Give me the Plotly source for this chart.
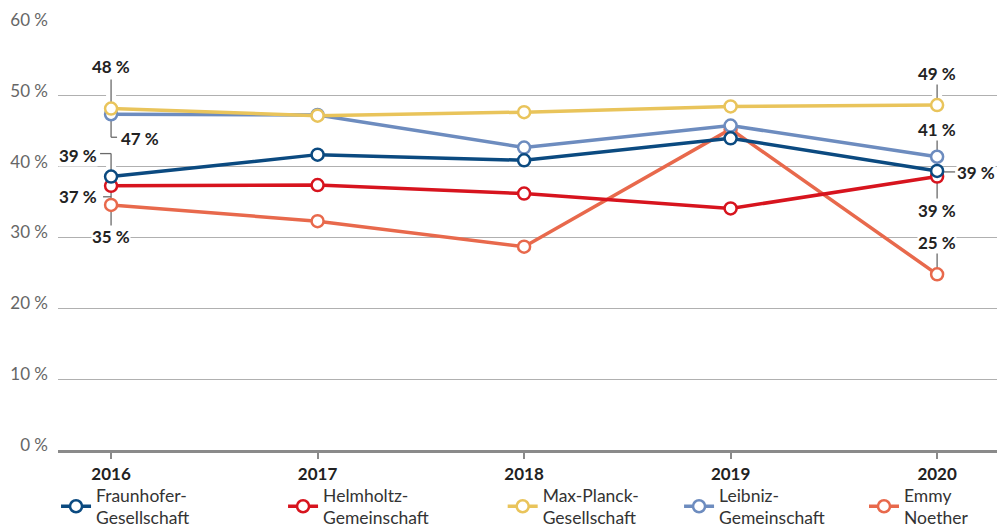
import plotly.graph_objects as go

# ---- data ----
years = [2016, 2017, 2018, 2019, 2020]
series_names = [
    "Fraunhofer-<br>Gesellschaft",
    "Helmholtz-<br>Gemeinschaft",
    "Max-Planck-<br>Gesellschaft",
    "Leibniz-<br>Gemeinschaft",
    "Emmy<br>Noether",
]
fraunhofer = [38.6, 41.7, 40.9, 44.0, 39.4]
helmholtz = [37.3, 37.4, 36.2, 34.1, 38.6]
max_planck = [48.2, 47.2, 47.7, 48.5, 48.7]
leibniz = [47.4, 47.3, 42.7, 45.8, 41.4]
emmy_noether = [34.6, 32.3, 28.7, 45.3, 24.8]
y_ticks = [0, 10, 20, 30, 40, 50, 60]
y_ticktext = [f"{v} %" for v in y_ticks]

series_values = [fraunhofer, helmholtz, max_planck, leibniz, emmy_noether]
colors = ["#0b4a80", "#d7141e", "#e9c45b", "#6d8cbf", "#e8694c"]
draw_order = [4, 3, 1, 2, 0]   # stacking of lines (bottom -> top)

FONT = "Lato"
fig = go.Figure()

for i in draw_order:
    name, vals, col = series_names[i], series_values[i], colors[i]
    fig.add_trace(go.Scatter(
        x=years, y=vals, name=name, mode="lines+markers",
        line=dict(color=col, width=3.5),
        marker=dict(symbol="circle", size=12, color="white",
                    line=dict(color=col, width=2.5)),
        hoverinfo="skip",
        legend="legend" if i == 0 else f"legend{i+1}",
    ))

# ---- end labels with leader lines (pixel offsets are styling) ----
# (series index, year index, label xanchor, xshift, yshift, leader segments)
label_style = [
    (2, 0, "center", 0, 42, [(0, 6, 0, 29)]),
    (3, 0, "left", 9, -24, [(0, -6, 0, -23), (0, -23, 6, -23)]),
    (0, 0, "right", -13, 21, [(0, 6, 0, 23), (0, 23, -11, 23)]),
    (1, 0, "right", -13, -11, [(0, -6, 0, -14), (0, -11, -8, -11)]),
    (4, 0, "center", 0, -32, [(0, -6, 0, -21)]),
    (2, 4, "center", 0, 32, [(0, 6, 0, 23)]),
    (3, 4, "center", 0, 27, [(0, 6, 0, 17)]),
    (0, 4, "left", 19, -2, [(6, -1, 18, -1)]),
    (1, 4, "center", 0, -34, [(0, -6, 0, -22)]),
    (4, 4, "center", 0, 32, [(0, 6, 0, 23)]),
]

shapes = []
annotations = []
for si, yi, xa, xs, ys, segs in label_style:
    xv = years[yi]
    yv = series_values[si][yi]
    for (x0, y0, x1, y1) in segs:
        if x0 == x1:
            shapes.append(dict(type="line", xref="x", yref="y",
                               xsizemode="pixel", ysizemode="pixel",
                               xanchor=xv, yanchor=yv,
                               x0=x0, x1=x1, y0=y0, y1=y1,
                               line=dict(color="white", width=10),
                               layer="between"))
        shapes.append(dict(type="line", xref="x", yref="y",
                           xsizemode="pixel", ysizemode="pixel",
                           xanchor=xv, yanchor=yv,
                           x0=x0, x1=x1, y0=y0, y1=y1,
                           line=dict(color="#6a6a6a", width=1.3),
                           layer="between"))
    annotations.append(dict(
        x=xv, y=yv, xref="x", yref="y", text=f"{round(yv)} %",
        showarrow=False, xanchor=xa, yanchor="middle",
        xshift=xs, yshift=ys, bgcolor="white", borderpad=0,
        font=dict(family=FONT, size=17, color="#222222", weight="bold"),
    ))

legend_x = [0.0562, 0.2839, 0.5042, 0.6811, 0.8666]
legend_common = dict(
    orientation="h", xref="container", yref="container",
    yanchor="top", y=0.1, xanchor="left",
    bgcolor="rgba(0,0,0,0)", itemwidth=30, valign="middle",
    font=dict(family=FONT, size=17.5, color="#333333"),
)
legend_layout = {}
for i, lx in enumerate(legend_x):
    key = "legend" if i == 0 else f"legend{i+1}"
    legend_layout[key] = dict(legend_common, x=lx)

fig.update_layout(
    width=997, height=530,
    margin=dict(l=58, r=0, t=25, b=80, autoexpand=False),
    paper_bgcolor="white", plot_bgcolor="white",
    showlegend=True,
    shapes=shapes, annotations=annotations,
    font=dict(family=FONT),
    xaxis=dict(
        range=[2015.743, 2020.29], tickvals=years,
        ticktext=[str(y) for y in years],
        showgrid=False, zeroline=False,
        showline=True, linecolor="#8a8a8a", linewidth=2.5,
        ticks="outside", ticklen=6, tickwidth=1.5, tickcolor="#8a8a8a",
        ticklabelstandoff=1, automargin=False,
        tickfont=dict(family=FONT, size=17, color="#222222", weight="bold"),
        fixedrange=True,
    ),
    yaxis=dict(
        range=[0, 60], tickvals=y_ticks, ticktext=y_ticktext,
        showgrid=True, gridcolor="#b0b0b0", gridwidth=1,
        zeroline=False, showline=False, ticks="",
        ticklabelstandoff=9, ticklabelshift=-5, automargin=False,
        tickfont=dict(family=FONT, size=17, color="#666666"),
        fixedrange=True,
    ),
    **legend_layout,
)

fig.write_html(
    "out.html",
    config={"displayModeBar": False},
    post_script="document.body.style.margin='0';document.body.style.overflow='hidden';",
)
